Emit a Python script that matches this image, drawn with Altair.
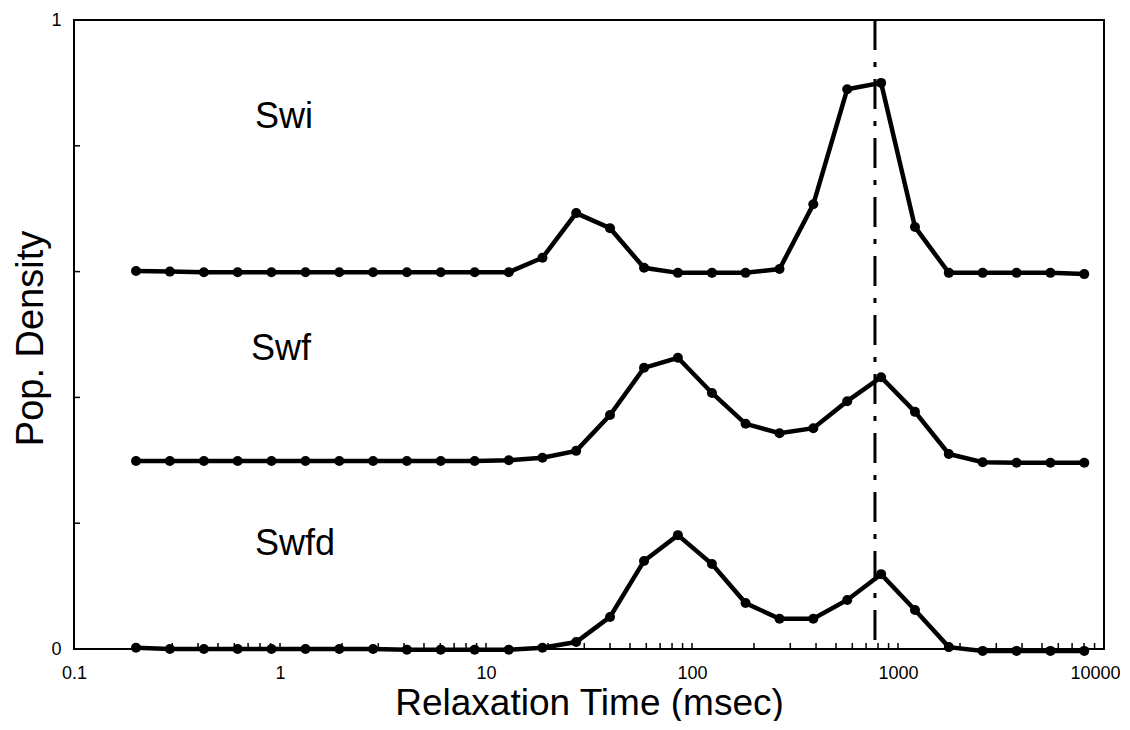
import altair as alt
import pandas as pd

FONT = "Liberation Sans"

# Relaxation times (msec) of the sampled points
times = [0.2, 0.292, 0.427, 0.623, 0.909, 1.33, 1.94, 2.83, 4.13, 6.03,
         8.81, 12.9, 18.8, 27.4, 40.0, 58.5, 85.4, 125, 182, 266,
         388, 567, 828, 1209, 1765, 2577, 3762, 5494, 8021]

swi = [0.601, 0.600, 0.599, 0.599, 0.599, 0.599, 0.599, 0.599, 0.599, 0.599,
       0.599, 0.599, 0.622, 0.693, 0.669, 0.606, 0.598, 0.598, 0.598, 0.604,
       0.707, 0.890, 0.900, 0.671, 0.598, 0.598, 0.598, 0.598, 0.596]

swf = [0.299, 0.299, 0.299, 0.299, 0.299, 0.299, 0.299, 0.299, 0.299, 0.299,
       0.299, 0.300, 0.304, 0.315, 0.372, 0.447, 0.463, 0.407, 0.358, 0.343,
       0.351, 0.394, 0.432, 0.377, 0.310, 0.297, 0.296, 0.296, 0.296]

swfd = [0.002, 0.000, 0.000, 0.000, 0.000, 0.000, 0.000, 0.000, -0.001, -0.001,
        -0.001, -0.001, 0.002, 0.011, 0.051, 0.140, 0.181, 0.135, 0.073, 0.048,
        0.048, 0.078, 0.119, 0.062, 0.003, -0.003, -0.003, -0.003, -0.003]

series_names = ["Swi", "Swf", "Swfd"]
label_x = [0.757, 0.723, 0.757]
label_y = [0.828, 0.459, 0.149]

ref_time = [773]

x_labels = [0.1, 1, 10, 100, 1000, 10000]
y_labels = [0, 1]
y_minor = [0.2, 0.4, 0.6, 0.8]
x_minor = [m * 10 ** k for k in range(-1, 4) for m in range(1, 10)][1:]

rows = []
for name, vals in zip(series_names, [swi, swf, swfd]):
    for i, (t, v) in enumerate(zip(times, vals)):
        rows.append({"series": name, "idx": i, "t": t, "v": v})
df = pd.DataFrame(rows)

labels_df = pd.DataFrame({"label": series_names, "t": label_x, "v": label_y})
ref_df = pd.DataFrame({"t": ref_time})
xt_df = pd.DataFrame({"t": x_minor})
yt_df = pd.DataFrame({"v": y_minor})

xscale = alt.Scale(type="log", domain=[0.1, 10000], nice=False)
yscale = alt.Scale(domain=[0, 1], nice=False, zero=False)

xaxis = alt.Axis(values=x_labels, format="~g", ticks=False, domain=False, grid=False,
                 labelFontSize=18, labelFont=FONT, labelColor="black", labelPadding=15,
                 labelFlush=False,
                 labelOffset={"condition": {"test": "datum.value >= 10000", "value": -9},
                              "value": 0},
                 title="Relaxation Time (msec)", titleFontSize=37,
                 titleFont=FONT, titleFontWeight="normal", titleColor="black",
                 titleY=65, titleBaseline="alphabetic")
yaxis = alt.Axis(values=y_labels, format="d", ticks=False, domain=False, grid=False,
                 labelFontSize=18, labelFont=FONT, labelColor="black", labelPadding=13,
                 labelFlush=False, title="Pop. Density", titleFontSize=38,
                 titleFont=FONT, titleFontWeight="normal", titleColor="black",
                 titleX=-32, titleY=318, titleBaseline="alphabetic", titleAlign="center")


def X(field):
    return alt.X(f"{field}:Q", scale=xscale, axis=xaxis, title="Relaxation Time (msec)")


def Y(field):
    return alt.Y(f"{field}:Q", scale=yscale, axis=yaxis, title="Pop. Density")


lines = alt.Chart(df).mark_line(color="black", strokeWidth=4.5).encode(
    x=X("t"), y=Y("v"), detail="series:N", order="idx:Q")
points = alt.Chart(df).mark_circle(color="black", size=100, opacity=1).encode(
    x=X("t"), y=Y("v"))
texts = alt.Chart(labels_df).mark_text(align="left", baseline="alphabetic", fontSize=36,
                                       font=FONT, color="black").encode(
    x=X("t"), y=Y("v"), text="label:N")
ref = alt.Chart(ref_df).mark_rule(color="black", strokeWidth=3,
                                  strokeDash=[30, 12, 5, 12]).encode(x=X("t"))
xticks = alt.Chart(xt_df).mark_rule(color="black", strokeWidth=1.5).encode(
    x=X("t"), y=alt.value(629), y2=alt.value(623))
yticks = alt.Chart(yt_df).mark_rule(color="black", strokeWidth=1.5).encode(
    y=Y("v"), x=alt.value(0), x2=alt.value(6))

chart = alt.layer(ref, xticks, yticks, lines, points, texts).properties(
    width=1030, height=629,
    padding={"left": 66, "top": 12, "right": 16, "bottom": 72},
    autosize=alt.AutoSizeParams(type="none"),
    background="white",
).configure_view(stroke="black", strokeWidth=2)

chart.save("out.html", embed_options={"renderer": "svg", "actions": False})
